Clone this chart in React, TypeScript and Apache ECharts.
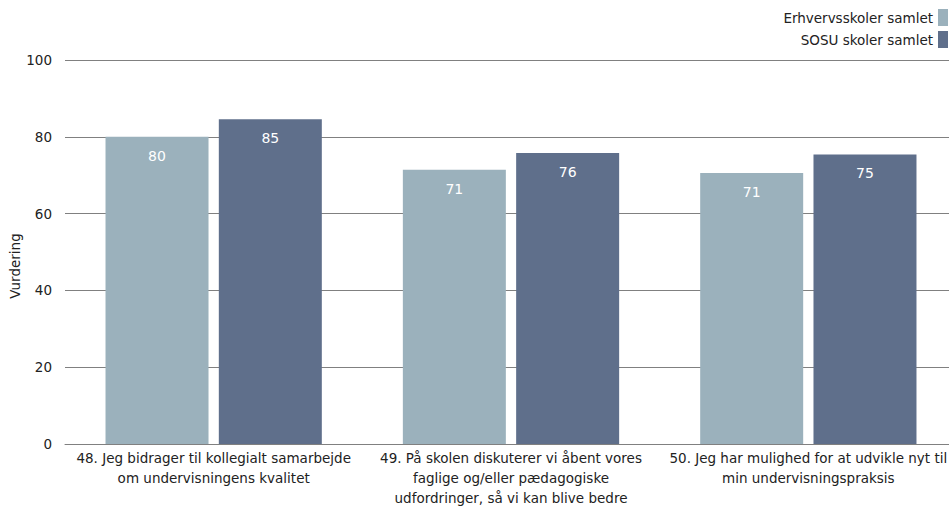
import React, { useEffect, useRef } from "react";
import * as echarts from "echarts";

const categories = [
  "48. Jeg bidrager til kollegialt samarbejde\nom undervisningens kvalitet",
  "49. På skolen diskuterer vi åbent vores\nfaglige og/eller pædagogiske\nudfordringer, så vi kan blive bedre",
  "50. Jeg har mulighed for at udvikle nyt til\nmin undervisningspraksis",
];
const seriesNames = ["Erhvervsskoler samlet", "SOSU skoler samlet"];
const erhvervsValues = [80.0, 71.4, 70.6];
const sosuValues = [84.6, 75.8, 75.4];
const yTicks = [0, 20, 40, 60, 80, 100];

const FONT = "'DejaVu Sans', sans-serif";
const FS = 13.5;

export default function App() {
  const ref = useRef<HTMLDivElement>(null);
  useEffect(() => {
    if (!ref.current) return;
    const chart = echarts.init(ref.current, null, { renderer: "svg" });
    const colors = ["#9BB1BC", "#5F6F8B"];
    const label = {
      show: true,
      position: "insideTop",
      distance: 12,
      color: "#fff",
      fontFamily: FONT,
      fontSize: 14,
      formatter: (p: any) => Math.round(p.value).toString(),
    };
    chart.setOption({
      animation: false,
      textStyle: { fontFamily: FONT },
      legend: {
        orient: "vertical",
        right: 1,
        top: 9,
        padding: 0,
        align: "right",
        itemWidth: 10,
        itemHeight: 17,
        itemGap: 5,
        icon: "rect",
        textStyle: { fontFamily: FONT, fontSize: FS, color: "#222" },
        data: seriesNames,
      },
      grid: { left: 65, right: -8, top: 60, bottom: 62, outerBoundsMode: "none", containLabel: false },
      xAxis: {
        type: "category",
        data: categories,
        axisTick: { show: false },
        axisLine: { lineStyle: { color: "#808080" } },
        axisLabel: {
          interval: 0,
          fontFamily: FONT,
          fontSize: FS,
          color: "#222",
          lineHeight: 20,
          margin: 4,
        },
      },
      yAxis: {
        type: "value",
        min: yTicks[0],
        max: yTicks[yTicks.length - 1],
        interval: 20,
        name: "Vurdering",
        nameLocation: "middle",
        nameGap: 43,
        nameMoveOverlap: false,
        nameTextStyle: { fontFamily: FONT, fontSize: FS, color: "#222", padding: [0, 28, 0, 0] },
        axisLabel: { fontFamily: FONT, fontSize: FS, color: "#222", margin: 13 },
        splitLine: { lineStyle: { color: "#808080" } },
        axisLine: { show: false },
        axisTick: { show: false },
      },
      series: [
        {
          name: seriesNames[0],
          type: "bar",
          data: erhvervsValues,
          barWidth: 103,
          barGap: "10%",
          itemStyle: { color: colors[0] },
          label,
        },
        {
          name: seriesNames[1],
          type: "bar",
          data: sosuValues,
          barWidth: 103,
          barGap: "10%",
          itemStyle: { color: colors[1] },
          label,
        },
      ],
    });
    return () => chart.dispose();
  }, []);
  return <div ref={ref} style={{ width: 949, height: 506, position: "absolute", left: 0, top: 0 }} />;
}
